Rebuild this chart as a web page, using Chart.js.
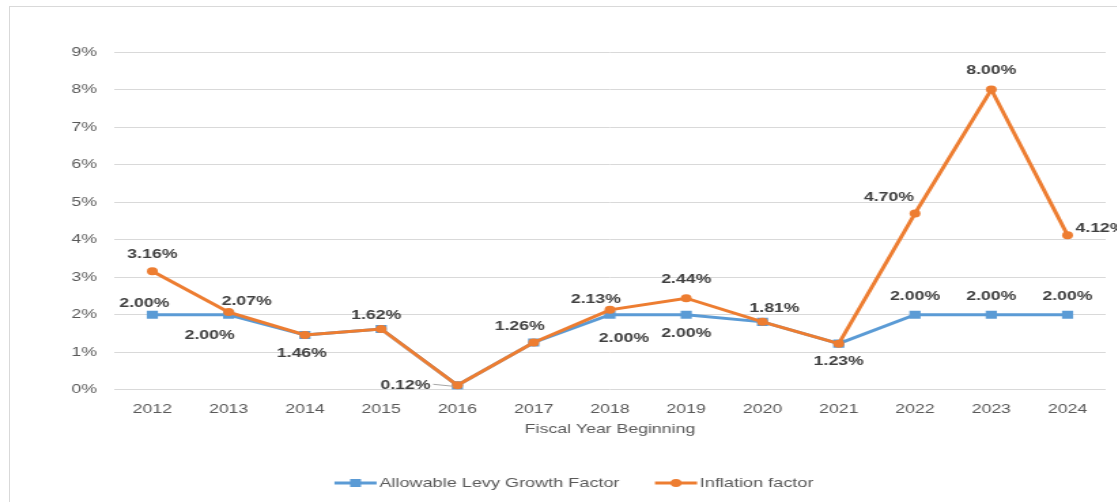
<!DOCTYPE html>
<html>
<head>
<meta charset="utf-8">
<script src="https://cdn.jsdelivr.net/npm/chart.js@4.4.1/dist/chart.umd.min.js"></script>
<style>
  html, body { margin: 0; padding: 0; background: #fff; }
  #wrap { position: relative; width: 1117px; height: 502px; overflow: hidden; }
  #frame { position: absolute; left: 9px; top: 6px; width: 1200px; height: 600px; border: 1px solid #d9d9d9; box-sizing: border-box; }
  /* the original picture is stretched sideways, so is this one */
  canvas { position: absolute; left: 0; top: 0; transform: scaleX(1.36); transform-origin: 0 0; }
</style>
</head>
<body>
<div id="wrap">
  <div id="frame"></div>
  <canvas id="lineChart" width="821" height="502"></canvas>
</div>
<script>
const STRETCH = 1.36;

// Chart data
const years = ["2012", "2013", "2014", "2015", "2016", "2017", "2018", "2019", "2020", "2021", "2022", "2023", "2024"];
const levyGrowth = [2.00, 2.00, 1.46, 1.62, 0.12, 1.26, 2.00, 2.00, 1.81, 1.23, 2.00, 2.00, 2.00];
const inflation = [3.16, 2.07, 1.46, 1.62, 0.12, 1.26, 2.13, 2.44, 1.81, 1.23, 4.70, 8.00, 4.12];

// label offsets from the point, in screen px (null = no label)
const levyLabelOffset = [[-8, -11], [-19, 21], [-3, 18], [-5, -14], [-52, 0], [-14, -16], [14, 24], [0, 19], [12, -13], [0, 18], [0, -18], [0, -18], [0, -18]];
const inflationLabelOffset = [[0, -17], [18, -11], null, null, null, null, [-14, -10], [0, -19], null, null, [-26, -16], [0, -19], [33, -7]];

const blue = "#5B9BD5";
const orange = "#ED7D31";
const textGrey = "#595959";
const labelGrey = "#404040";
const fontFamily = "Arial, 'Liberation Sans', sans-serif";

// Value labels drawn next to points
const valueLabels = {
  id: "valueLabels",
  afterDatasetsDraw(chart) {
    const ctx = chart.ctx;
    ctx.save();
    ctx.font = "bold 13px " + fontFamily;
    ctx.fillStyle = labelGrey;
    ctx.textBaseline = "middle";
    ctx.textAlign = "center";
    chart.data.datasets.forEach((ds, i) => {
      const meta = chart.getDatasetMeta(i);
      meta.data.forEach((pt, j) => {
        const off = ds.labelOffset[j];
        if (!off) return;
        const txt = ds.data[j].toFixed(2) + "%";
        const x = pt.x + off[0] / STRETCH;
        const y = pt.y + off[1];
        // leader line for labels pushed far to the side
        if (Math.abs(off[0]) > 40) {
          const half = ctx.measureText(txt).width / 2;
          ctx.strokeStyle = "#a6a6a6";
          ctx.lineWidth = 1;
          ctx.beginPath();
          ctx.moveTo(x + half + 2, y - 1);
          ctx.lineTo(pt.x - 3, pt.y + 1);
          ctx.stroke();
        }
        ctx.fillText(txt, x, y);
      });
    });
    ctx.restore();
  }
};

// Legend with line + marker
const lineLegend = {
  id: "lineLegend",
  afterDraw(chart) {
    const ctx = chart.ctx;
    ctx.save();
    ctx.font = "13.3px " + fontFamily;
    ctx.textBaseline = "middle";
    const y = 483;
    const lineLen = 31;
    const gap = 26;
    const items = chart.data.datasets.slice().sort((a, b) => b.order - a.order);
    const widths = items.map(d => lineLen + 2 + ctx.measureText(d.label).width);
    const total = widths.reduce((a, b) => a + b, 0) + gap;
    let x = chart.width / 2 + 11.5 - total / 2;
    items.forEach((d, i) => {
      ctx.strokeStyle = d.borderColor;
      ctx.lineWidth = 3;
      ctx.beginPath();
      ctx.moveTo(x, y);
      ctx.lineTo(x + lineLen, y);
      ctx.stroke();
      ctx.fillStyle = d.borderColor;
      if (d.pointStyle === "rect") {
        ctx.fillRect(x + lineLen / 2 - 4, y - 4, 8, 8);
      } else {
        ctx.beginPath();
        ctx.arc(x + lineLen / 2, y, 4, 0, Math.PI * 2);
        ctx.fill();
      }
      ctx.fillStyle = textGrey;
      ctx.fillText(d.label, x + lineLen + 2, y);
      x += widths[i] + gap;
    });
    ctx.restore();
  }
};

const chartEl = document.getElementById("lineChart");
new Chart(chartEl, {
  type: "line",
  data: {
    labels: years,
    datasets: [
      {
        label: "Allowable Levy Growth Factor",
        data: levyGrowth,
        labelOffset: levyLabelOffset,
        order: 1,
        borderColor: blue,
        backgroundColor: blue,
        borderWidth: 3,
        pointStyle: "rect",
        pointRadius: 5.8,
        pointBorderWidth: 0,
        tension: 0,
      },
      {
        label: "Inflation factor",
        data: inflation,
        labelOffset: inflationLabelOffset,
        order: 0,
        borderColor: orange,
        backgroundColor: orange,
        borderWidth: 3,
        pointStyle: "circle",
        pointRadius: 4,
        pointBorderWidth: 0,
        tension: 0,
      },
    ],
  },
  options: {
    responsive: false,
    animation: false,
    layout: { padding: { left: 40, right: 8, top: 52, bottom: 61 } },
    plugins: {
      legend: { display: false },
      tooltip: { enabled: false },
    },
    scales: {
      x: {
        offset: true,
        grid: { display: false },
        border: { display: false },
        ticks: { color: textGrey, font: { size: 13, family: fontFamily }, padding: 4 },
        title: {
          display: true,
          text: "Fiscal Year Beginning",
          color: textGrey,
          font: { size: 13, family: fontFamily },
          padding: { top: 0, bottom: 4 },
        },
      },
      y: {
        min: 0,
        max: 9,
        grid: { color: "#d9d9d9", lineWidth: 1, drawTicks: false },
        border: { display: false },
        ticks: {
          stepSize: 1,
          color: textGrey,
          padding: 12.6,
          font: { size: 13, family: fontFamily },
          callback: v => v + "%",
        },
      },
    },
  },
  plugins: [valueLabels, lineLegend],
});
</script>
</body>
</html>
